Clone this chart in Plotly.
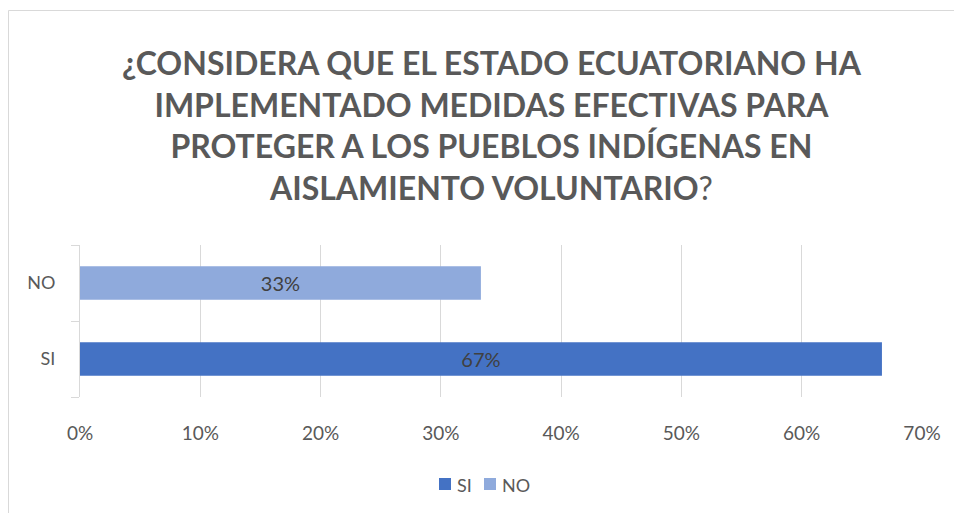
import plotly.graph_objects as go

categories = ["SI", "NO"]
values = [66.67, 33.33]
colors = ["#4472C4", "#8FAADC"]
tick_vals = [0, 10, 20, 30, 40, 50, 60, 70]
tick_text = ["0%", "10%", "20%", "30%", "40%", "50%", "60%", "70%"]
title_lines = [
    "¿CONSIDERA QUE EL ESTADO ECUATORIANO HA",
    "IMPLEMENTADO MEDIDAS EFECTIVAS PARA",
    "PROTEGER A LOS PUEBLOS INDÍGENAS EN",
    "AISLAMIENTO VOLUNTARIO",
]

FONT = "Lato"
OFF = 8  # page body margin
fig = go.Figure()
for cat, val, col in zip(categories, values, colors):
    fig.add_trace(go.Bar(
        x=[val], y=[cat], orientation="h", name=cat,
        marker=dict(color=col, line=dict(width=0)),
        width=0.44,
        text=[f"{round(val)}%"], textposition="inside", insidetextanchor="middle",
        textfont=dict(color="#404040", size=20, family=FONT),
        hoverinfo="skip", showlegend=False,
    ))

W, H = 954, 505
L, R, T, B = 80 - OFF, 40, 245 - OFF, 116
pw, ph = W - L - R, H - T - B

def px_x(x):
    return (x - OFF - L) / pw

def px_y(y):
    return (H - B - (y - OFF)) / ph

title_text = "<b>" + "<br>".join(title_lines[:-1] + [title_lines[-1] + "</b>?"])

annotations = [dict(text=title_text, xref="paper", yref="paper",
                    x=px_x(492), y=px_y(125), xanchor="center", yanchor="middle",
                    showarrow=False, align="center",
                    font=dict(size=32, color="#595959", family=FONT))]
shapes = [dict(type="rect", xref="paper", yref="paper",
               x0=px_x(8.5), x1=px_x(985), y0=px_y(10.5), y1=px_y(540),
               line=dict(color="#D9D9D9", width=1), fillcolor="rgba(0,0,0,0)", layer="below")]

# legend (manual, compact like the original)
leg_x = [439, 484]
for cat, col, lx in zip(categories, colors, leg_x):
    shapes.append(dict(type="rect", xref="paper", yref="paper",
                       x0=px_x(lx), x1=px_x(lx + 12), y0=px_y(478), y1=px_y(490),
                       line=dict(width=0), fillcolor=col))
    annotations.append(dict(text=cat, xref="paper", yref="paper",
                            x=px_x(lx + 16), y=px_y(485), xanchor="left", yanchor="middle",
                            showarrow=False, font=dict(size=18, color="#595959", family=FONT)))

fig.update_layout(
    width=W, height=H,
    margin=dict(l=L, r=R, t=T, b=B, autoexpand=False),
    paper_bgcolor="white", plot_bgcolor="white",
    barmode="overlay",
    showlegend=False,
    xaxis=dict(range=[0, 70], tickvals=tick_vals, ticktext=tick_text,
               showgrid=True, gridcolor="#D9D9D9", gridwidth=1, zeroline=False,
               showline=False, ticks="", ticklabelstandoff=23,
               tickfont=dict(size=19, color="#595959", family=FONT)),
    yaxis=dict(type="category", categoryorder="array", categoryarray=categories,
               showline=True, linecolor="#D9D9D9", linewidth=1,
               ticks="outside", ticklen=8, tickcolor="#D9D9D9", tickson="boundaries",
               showgrid=False, ticklabelstandoff=20,
               tickfont=dict(size=18, color="#595959", family=FONT)),
    annotations=annotations,
    shapes=shapes,
)
fig.write_html("out.html")
